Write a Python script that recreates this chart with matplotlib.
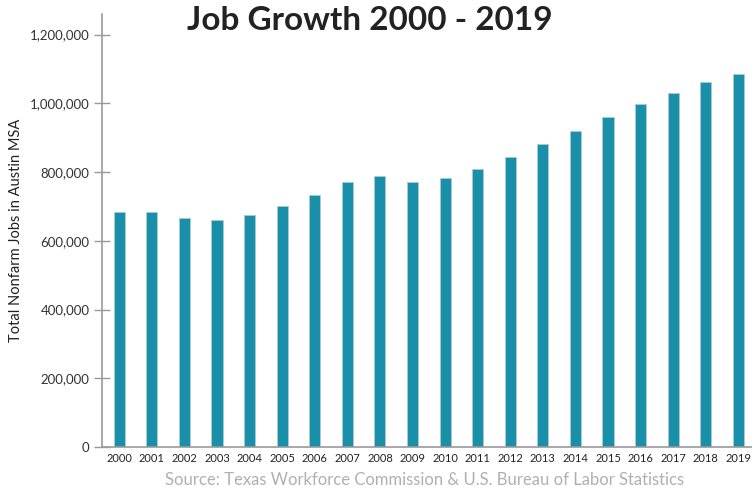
import matplotlib.pyplot as plt
import numpy as np

# Austin MSA total nonfarm jobs
years = [str(y) for y in range(2000, 2020)]
jobs = [683000, 683000, 666000, 661000, 676000, 702000, 734000, 770000,
        788000, 772000, 783000, 810000, 843000, 881000, 919000, 960000,
        999000, 1031000, 1062000, 1085000]
yticks = [0, 200000, 400000, 600000, 800000, 1000000, 1200000]

plt.rcParams['font.family'] = ['Lato', 'DejaVu Sans']

fig = plt.figure(figsize=(7.52, 4.91), dpi=100)
ax = fig.add_axes([0.1356, 0.0896, 0.8644, 0.8819])

x = np.arange(len(years))
ax.bar(x, jobs, width=0.34, color='#1a8fa9', edgecolor='#a9cdd6', linewidth=0.6)

ax.set_xlim(-0.53, len(years) - 1 + 0.42)
ax.set_ylim(0, 1260000)
ax.set_yticks(yticks)
ax.set_yticklabels([f'{v:,}' for v in yticks], fontsize=9.5, color='#333333')
ax.set_xticks(x)
ax.set_xticklabels(years, fontsize=8, color='#222222')

for s in ['top', 'right']:
    ax.spines[s].set_visible(False)
for s in ['left', 'bottom']:
    ax.spines[s].set_color('#999999')
    ax.spines[s].set_linewidth(1.2)

ax.tick_params(axis='y', direction='inout', length=12, width=1, color='#999999', pad=3)
ax.tick_params(axis='x', length=0, pad=4)

ax.set_ylabel('Total Nonfarm Jobs in Austin MSA', fontsize=10.5, color='#222222', labelpad=5)

fig.text(0.492, 0.958, 'Job Growth 2000 - 2019', ha='center', va='center',
         fontsize=24, fontweight='bold', color='#222222')
fig.text(0.564, 0.022, 'Source: Texas Workforce Commission & U.S. Bureau of Labor Statistics',
         ha='center', va='center', fontsize=12, color='#b0b0b0')

fig.savefig('out.png', dpi=100)
